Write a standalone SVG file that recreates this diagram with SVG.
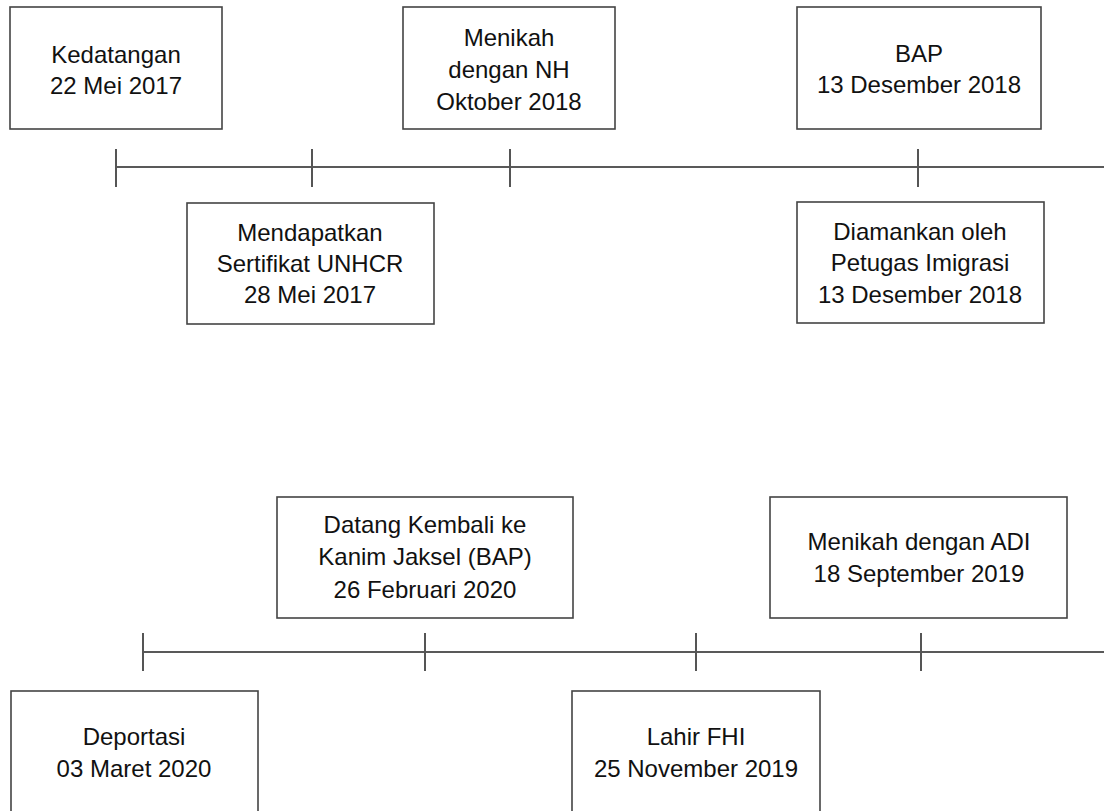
<svg xmlns="http://www.w3.org/2000/svg" width="1104" height="811" viewBox="0 0 1104 811">
<style>
.box{fill:#fff;stroke:#444;stroke-width:1.6}
.t{font-family:"Liberation Sans",Arial,sans-serif;font-size:24px;fill:#111;text-anchor:middle}
.axis{stroke:#222;stroke-width:1.5;fill:none}
.tick{stroke:#555;stroke-width:2}
</style>
<rect width="1104" height="811" fill="#fff"/>
<g id="connectors">
<line class="axis" x1="116" y1="167" x2="1104" y2="167"/>
<line class="tick" x1="116" y1="149" x2="116" y2="187"/>
<line class="tick" x1="312" y1="149" x2="312" y2="187"/>
<line class="tick" x1="510" y1="149" x2="510" y2="187"/>
<line class="tick" x1="918" y1="149" x2="918" y2="187"/>
<line class="axis" x1="143" y1="652" x2="1104" y2="652"/>
<line class="tick" x1="143" y1="633" x2="143" y2="671"/>
<line class="tick" x1="425" y1="633" x2="425" y2="671"/>
<line class="tick" x1="696" y1="633" x2="696" y2="671"/>
<line class="tick" x1="921" y1="633" x2="921" y2="671"/>
</g>
<g id="kedatangan">
<rect class="box" x="10" y="7" width="212" height="122"/>
<text class="t" x="116" y="63">Kedatangan</text>
<text class="t" x="116" y="94">22 Mei 2017</text>
</g>
<g id="menikah-nh">
<rect class="box" x="403" y="7" width="212" height="122"/>
<text class="t" x="509" y="46">Menikah</text>
<text class="t" x="509" y="78">dengan NH</text>
<text class="t" x="509" y="110">Oktober 2018</text>
</g>
<g id="bap">
<rect class="box" x="797" y="7" width="244" height="122"/>
<text class="t" x="919" y="62">BAP</text>
<text class="t" x="919" y="93">13 Desember 2018</text>
</g>
<g id="unhcr">
<rect class="box" x="187" y="203" width="247" height="121"/>
<text class="t" x="310" y="241">Mendapatkan</text>
<text class="t" x="310" y="272">Sertifikat UNHCR</text>
<text class="t" x="310" y="303">28 Mei 2017</text>
</g>
<g id="diamankan">
<rect class="box" x="797" y="202" width="247" height="121"/>
<text class="t" x="920" y="240">Diamankan oleh</text>
<text class="t" x="920" y="271">Petugas Imigrasi</text>
<text class="t" x="920" y="303">13 Desember 2018</text>
</g>
<g id="datang-kembali">
<rect class="box" x="277" y="497" width="296" height="121"/>
<text class="t" x="425" y="533">Datang Kembali ke</text>
<text class="t" x="425" y="565">Kanim Jaksel (BAP)</text>
<text class="t" x="425" y="598">26 Februari 2020</text>
</g>
<g id="menikah-adi">
<rect class="box" x="770" y="497" width="297" height="121"/>
<text class="t" x="919" y="550">Menikah dengan ADI</text>
<text class="t" x="919" y="582">18 September 2019</text>
</g>
<g id="deportasi">
<rect class="box" x="11" y="691" width="247" height="121"/>
<text class="t" x="134" y="745">Deportasi</text>
<text class="t" x="134" y="777">03 Maret 2020</text>
</g>
<g id="lahir-fhi">
<rect class="box" x="572" y="691" width="248" height="121"/>
<text class="t" x="696" y="745">Lahir FHI</text>
<text class="t" x="696" y="777">25 November 2019</text>
</g>
</svg>
